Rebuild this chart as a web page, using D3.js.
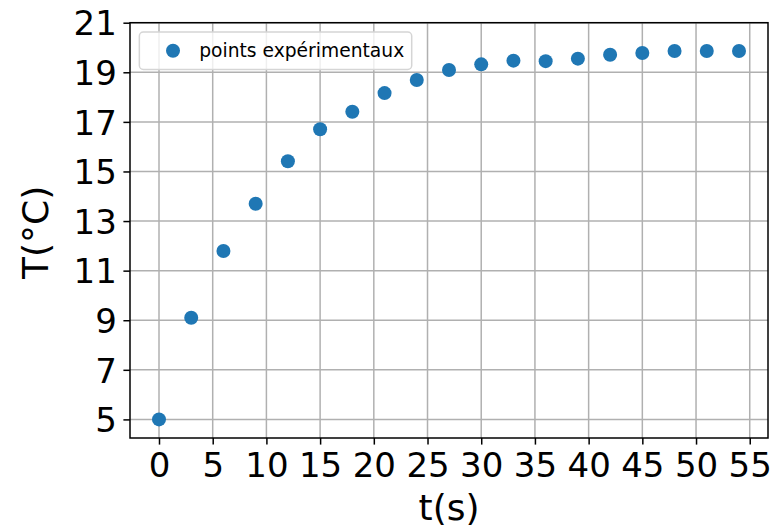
<!DOCTYPE html>
<html>
<head>
<meta charset="utf-8">
<script src="https://cdn.jsdelivr.net/npm/d3@7"></script>
<style>
  body { margin: 0; background: #fff; }
  svg { font-family: "DejaVu Sans", sans-serif; display: block; }
  .grid line { stroke: #b0b0b0; stroke-width: 1.5; }
  .frame { fill: none; stroke: #000; stroke-width: 1.5; }
  .tick-label { font-size: 34px; fill: #000; }
  .axis-label { font-size: 36px; fill: #000; }
  .legend-text { font-size: 18.7px; fill: #000; }
</style>
</head>
<body>
<svg id="chart" width="782" height="531"></svg>
<script>
// measurement times (s)
var times = [0, 3, 6, 9, 12, 15, 18, 21, 24, 27, 30, 33, 36, 39, 42, 45, 48, 51, 54];
// measured temperatures (°C)
var temps = [5.0, 9.1, 11.79, 13.7, 15.41, 16.7, 17.41, 18.16, 18.69, 19.09, 19.32, 19.47, 19.45, 19.55, 19.71, 19.78, 19.86, 19.86, 19.86];
var xTicks = [0, 5, 10, 15, 20, 25, 30, 35, 40, 45, 50, 55];
var yTicks = [5, 7, 9, 11, 13, 15, 17, 19, 21];
var legendLabel = "points expérimentaux";

var Config = {
  Left: 130,
  Right: 768,
  Top: 22.7,
  Bottom: 438,
  TickLen: 6.6,
  TickPad: 6.6,
  MarkerR: 7,
  Blue: "#1f77b4",
  LegendFont: 18.7
};

var svg = d3.select("#chart");

var x = d3.scaleLinear().domain([-2.7, 56.7]).range([Config.Left, Config.Right]);
var y = d3.scaleLinear().domain([4.25, 21]).range([Config.Bottom, Config.Top]);

// grid
var grid = svg.append("g").attr("class", "grid");
grid.selectAll(".gx").data(xTicks).enter().append("line")
  .attr("x1", function (d) { return x(d); })
  .attr("x2", function (d) { return x(d); })
  .attr("y1", Config.Top)
  .attr("y2", Config.Bottom);
grid.selectAll(".gy").data(yTicks).enter().append("line")
  .attr("y1", function (d) { return y(d); })
  .attr("y2", function (d) { return y(d); })
  .attr("x1", Config.Left)
  .attr("x2", Config.Right);

// axes (ticks + labels), drawn via d3 axis then restyled
var xAxis = svg.append("g")
  .attr("transform", "translate(0," + Config.Bottom + ")")
  .call(d3.axisBottom(x).tickValues(xTicks).tickSize(Config.TickLen).tickPadding(Config.TickPad));
var yAxis = svg.append("g")
  .attr("transform", "translate(" + Config.Left + ",0)")
  .call(d3.axisLeft(y).tickValues(yTicks).tickSize(Config.TickLen).tickPadding(Config.TickPad));

[xAxis, yAxis].forEach(function (g) {
  g.attr("font-family", null).attr("font-size", null);
  g.select(".domain").remove();
  g.selectAll(".tick line").attr("stroke", "#000").attr("stroke-width", 1.5);
  g.selectAll(".tick text").attr("class", "tick-label").attr("fill", "#000");
});
xAxis.selectAll(".tick text").attr("dy", "0.76em");
yAxis.selectAll(".tick text").attr("dy", "0.36em");

// frame
svg.append("rect")
  .attr("class", "frame")
  .attr("x", Config.Left)
  .attr("y", Config.Top)
  .attr("width", Config.Right - Config.Left)
  .attr("height", Config.Bottom - Config.Top);

// points
svg.append("g").selectAll("circle")
  .data(times)
  .enter()
  .append("circle")
  .attr("cx", function (d) { return x(d); })
  .attr("cy", function (d, i) { return y(temps[i]); })
  .attr("r", Config.MarkerR)
  .attr("fill", Config.Blue);

// axis labels
svg.append("text")
  .attr("class", "axis-label")
  .attr("x", (Config.Left + Config.Right) / 2)
  .attr("y", 520)
  .attr("text-anchor", "middle")
  .text("t(s)");

svg.append("text")
  .attr("class", "axis-label")
  .attr("transform", "translate(48," + ((Config.Top + Config.Bottom) / 2 + 2) + ") rotate(-90)")
  .attr("text-anchor", "middle")
  .text("T(°C)");

// legend
var f = Config.LegendFont;
var lx = Config.Left + 0.5 * f, ly = Config.Top + 0.5 * f;
var legend = svg.append("g");
var ltext = legend.append("text")
  .attr("class", "legend-text")
  .attr("x", lx + 3.2 * f)
  .attr("y", ly + 0.4 * f + 0.6 * f)
  .attr("dy", "0.36em")
  .text(legendLabel);
var tw = ltext.node().getComputedTextLength();
legend.insert("rect", "text")
  .attr("x", lx)
  .attr("y", ly)
  .attr("width", 3.2 * f + tw + 0.4 * f)
  .attr("height", 0.8 * f + 1.2 * f)
  .attr("rx", 4)
  .attr("fill", "#fff")
  .attr("fill-opacity", 0.8)
  .attr("stroke", "#d5d5d5")
  .attr("stroke-width", 1.5);
legend.append("circle")
  .attr("cx", lx + 0.4 * f + 1.4 * f)
  .attr("cy", ly + 0.4 * f + 0.6 * f)
  .attr("r", Config.MarkerR)
  .attr("fill", Config.Blue);
</script>
</body>
</html>
